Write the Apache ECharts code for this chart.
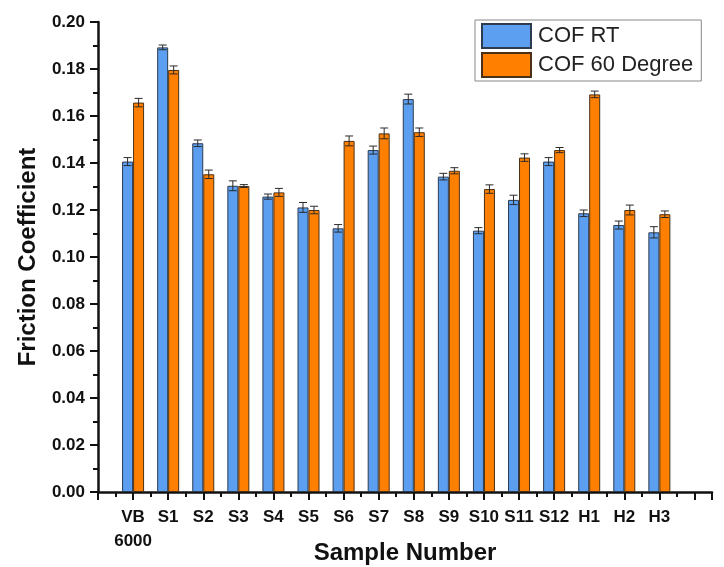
<!DOCTYPE html>
<html>
<head>
<meta charset="utf-8">
<script src="https://cdn.jsdelivr.net/npm/echarts@6/dist/echarts.min.js"></script>
<style>
  html, body { margin: 0; padding: 0; background: #fff; overflow: hidden; }
  #chart { width: 724px; height: 567px; }
</style>
</head>
<body>
<div id="chart"></div>
<script>
// Sample names, placed at x positions 1..16 on the axis
const categories = ['VB\n6000', 'S1', 'S2', 'S3', 'S4', 'S5', 'S6', 'S7', 'S8', 'S9', 'S10', 'S11', 'S12', 'H1', 'H2', 'H3'];

// Friction coefficient at room temperature
const cofRT = [0.1406, 0.1892, 0.1484, 0.1303, 0.1257, 0.1211, 0.1122, 0.1455, 0.1672, 0.1342, 0.1112, 0.1243, 0.1406, 0.1186, 0.1136, 0.1105];
const cofRTErr = [0.0017, 0.0010, 0.0014, 0.0021, 0.0011, 0.0021, 0.0016, 0.0017, 0.0021, 0.0014, 0.0013, 0.0020, 0.0017, 0.0014, 0.0017, 0.0024];

// Friction coefficient at 60 degrees
const cof60 = [0.1657, 0.1796, 0.1352, 0.1302, 0.1275, 0.1200, 0.1494, 0.1526, 0.1531, 0.1367, 0.1289, 0.1423, 0.1455, 0.1692, 0.1200, 0.1182];
const cof60Err = [0.0018, 0.0017, 0.0018, 0.0006, 0.0017, 0.0016, 0.0021, 0.0023, 0.0018, 0.0013, 0.0018, 0.0016, 0.0011, 0.0014, 0.0021, 0.0014];

const yTicks = { min: 0, max: 0.2, step: 0.02 };

const BAR_W = 11;
const BLUE = '#5c9ff0';
const ORANGE = '#ff8000';
const INK = '#111';
const FONT = '"Liberation Sans", Arial, sans-serif';

const rtData = cofRT.map((v, i) => [i + 1, v]);
const d60Data = cof60.map((v, i) => [i + 1, v]);
const rtErrData = cofRT.map((v, i) => [i + 1, v, cofRTErr[i]]);
const d60ErrData = cof60.map((v, i) => [i + 1, v, cof60Err[i]]);

// Draws an I-beam error bar shifted horizontally to sit over its bar
function errorBar(offset) {
  return function (params, api) {
    const x = api.value(0), v = api.value(1), e = api.value(2);
    const top = api.coord([x, v + e]);
    const bot = api.coord([x, v - e]);
    const cx = top[0] + offset;
    const cap = 4;
    const style = { stroke: '#2a2a2a', lineWidth: 1, fill: null };
    return {
      type: 'group',
      children: [
        { type: 'line', shape: { x1: cx, y1: top[1], x2: cx, y2: bot[1] }, style },
        { type: 'line', shape: { x1: cx - cap, y1: top[1], x2: cx + cap, y2: top[1] }, style },
        { type: 'line', shape: { x1: cx - cap, y1: bot[1], x2: cx + cap, y2: bot[1] }, style }
      ]
    };
  };
}

const chart = echarts.init(document.getElementById('chart'), null, { renderer: 'canvas' });

chart.setOption({
  animation: false,
  backgroundColor: '#fff',
  textStyle: { fontFamily: FONT },
  grid: { left: 98, right: 12, top: 22, bottom: 75, containLabel: false, outerBoundsMode: 'none' },
  legend: {
    data: ['COF RT', 'COF 60 Degree'],
    orient: 'vertical',
    left: 475,
    top: 20,
    itemWidth: 49,
    itemHeight: 24,
    itemGap: 3,
    padding: [3, 8, 3, 6],
    borderColor: '#888',
    borderWidth: 1,
    icon: 'rect',
    textStyle: { fontSize: 22, color: '#222', fontFamily: FONT, lineHeight: 24, padding: [0, 0, 0, 2] }
  },
  xAxis: {
    type: 'value',
    min: 0,
    max: 17.5,
    interval: 1,
    name: 'Sample Number',
    nameLocation: 'middle',
    nameGap: 49,
    nameMoveOverlap: false,
    nameTextStyle: { fontSize: 24, fontWeight: 'bold', color: INK, fontFamily: FONT },
    axisLine: { show: true, onZero: false, lineStyle: { color: INK, width: 2.5 } },
    axisTick: { show: true, inside: false, length: 8, lineStyle: { color: INK, width: 2 } },
    minorTick: { show: true, splitNumber: 2, length: 5, lineStyle: { color: INK, width: 2 } },
    splitLine: { show: false },
    axisLabel: {
      fontSize: 17,
      fontWeight: 'bold',
      color: INK,
      margin: 13,
      lineHeight: 24,
      showMaxLabel: false,
      formatter: function (val) {
        const i = Math.round(val) - 1;
        return (i >= 0 && i < categories.length && Math.abs(val - Math.round(val)) < 1e-6) ? categories[i] : '';
      }
    }
  },
  yAxis: {
    type: 'value',
    min: yTicks.min,
    max: yTicks.max,
    interval: yTicks.step,
    name: 'Friction Coefficient',
    nameLocation: 'middle',
    nameGap: 58,
    nameMoveOverlap: false,
    nameTextStyle: { fontSize: 24, fontWeight: 'bold', color: INK, fontFamily: FONT },
    axisLine: { show: true, lineStyle: { color: INK, width: 2.5 } },
    axisTick: { show: true, inside: false, length: 8, lineStyle: { color: INK, width: 2 } },
    minorTick: { show: true, splitNumber: 2, length: 5, lineStyle: { color: INK, width: 2 } },
    splitLine: { show: false },
    axisLabel: {
      fontSize: 17,
      fontWeight: 'bold',
      color: INK,
      margin: 13,
      formatter: v => v.toFixed(2)
    }
  },
  series: [
    {
      name: 'COF RT',
      type: 'bar',
      data: rtData,
      barWidth: BAR_W,
      barGap: '0%',
      itemStyle: { color: BLUE, borderColor: '#2d3b4f', borderWidth: 1 },
      z: 2
    },
    {
      name: 'COF 60 Degree',
      type: 'bar',
      data: d60Data,
      barWidth: BAR_W,
      barGap: '0%',
      itemStyle: { color: ORANGE, borderColor: '#4a3016', borderWidth: 1 },
      z: 2
    },
    {
      name: 'rtErr',
      type: 'custom',
      data: rtErrData,
      renderItem: errorBar(-BAR_W / 2),
      encode: { x: 0, y: 1 },
      z: 5,
      silent: true
    },
    {
      name: 'd60Err',
      type: 'custom',
      data: d60ErrData,
      renderItem: errorBar(BAR_W / 2),
      encode: { x: 0, y: 1 },
      z: 5,
      silent: true
    }
  ]
});
</script>
</body>
</html>
